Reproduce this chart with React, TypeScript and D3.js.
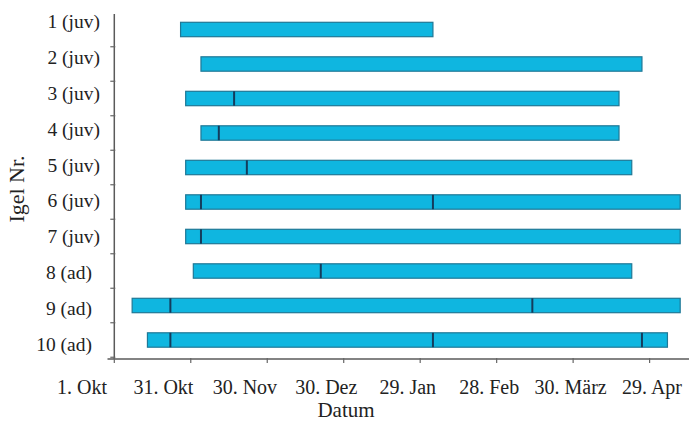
import * as d3 from 'd3';

const igel = ['1 (juv)', '2 (juv)', '3 (juv)', '4 (juv)', '5 (juv)', '6 (juv)', '7 (juv)', '8 (ad)', '9 (ad)', '10 (ad)'];
// days since 1. Okt
const startDay = [26, 34, 28, 34, 28, 28, 28, 31, 7, 13];
const endDay = [125, 207, 198, 198, 203, 222, 222, 203, 222, 217];
const markDays = [[], [], [47], [41], [52], [34, 125], [34], [81], [22, 164], [22, 125, 207]];
const tickDays = [0, 30, 60, 90, 120, 150, 180, 210];
const tickLabels = ['1. Okt', '31. Okt', '30. Nov', '30. Dez', '29. Jan', '28. Feb', '30. März', '29. Apr'];

const W = 689;
const H = 423;
const axisX = 114.3;
const axisY = 359;
const barH = 14.4;
const font = '"Liberation Serif", "Times New Roman", serif';

export default function App() {
  const x = d3.scaleLinear().domain([0, 210]).range([axisX, 649.6]);
  // label positions in the original are spread slightly wider than the ticks
  const xLabel = d3.scaleLinear().domain([0, 210]).range([82, 652]);
  const y = d3.scalePoint<string>().domain(igel).range([29.5, 340]);
  const yLabel = d3.scalePoint<string>().domain(igel).range([28, 351]);
  const step = y.step();

  return (
    <>
      <style>{`body{margin:0}`}</style>
      <svg width={W} height={H} style={{ display: 'block', background: '#fff' }}>
        {/* axes */}
        <line x1={axisX} x2={axisX} y1={14} y2={axisY} stroke="#5a5a5a" strokeWidth={1.5} />
        <line x1={107.5} x2={W} y1={axisY} y2={axisY} stroke="#5a5a5a" strokeWidth={1.5} />
        {igel.map((d) => (
          <line key={'yt' + d} x1={axisX - 4} x2={axisX + 1} y1={y(d)! + step / 2} y2={y(d)! + step / 2} stroke="#666" strokeWidth={1.2} />
        ))}
        {tickDays.map((d) => (
          <line key={'xt' + d} x1={x(d)} x2={x(d)} y1={axisY - 1} y2={axisY + 4} stroke="#666" strokeWidth={1.2} />
        ))}

        {/* bars */}
        {igel.map((d, i) => (
          <g key={'bar' + d}>
            <rect
              x={x(startDay[i])}
              y={y(d)! - barH / 2}
              width={x(endDay[i]) - x(startDay[i])}
              height={barH}
              fill="#0fb6e0"
              stroke="#1f7896"
              strokeWidth={1.2}
            />
            {markDays[i].map((m) => (
              <line key={m} x1={x(m)} x2={x(m)} y1={y(d)! - barH / 2} y2={y(d)! + barH / 2} stroke="#143c5c" strokeWidth={2} />
            ))}
          </g>
        ))}

        {/* category labels */}
        {igel.map((d) => (
          <text
            key={'lab' + d}
            x={d.includes('(ad)') ? 92 : 100}
            y={yLabel(d)}
            textAnchor="end"
            fontFamily={font}
            fontSize={19.5}
            fill="#222"
          >
            {d}
          </text>
        ))}

        {/* x tick labels */}
        {tickDays.map((d, i) => (
          <text key={'xl' + d} x={xLabel(d)} y={394} textAnchor="middle" fontFamily={font} fontSize={20} fill="#222">
            {tickLabels[i]}
          </text>
        ))}

        <text x={346} y={417} textAnchor="middle" fontFamily={font} fontSize={21} fill="#222">
          Datum
        </text>
        <text
          transform={`translate(24,189) rotate(-90)`}
          textAnchor="middle"
          fontFamily={font}
          fontSize={22}
          fill="#222"
        >
          Igel Nr.
        </text>
      </svg>
    </>
  );
}
